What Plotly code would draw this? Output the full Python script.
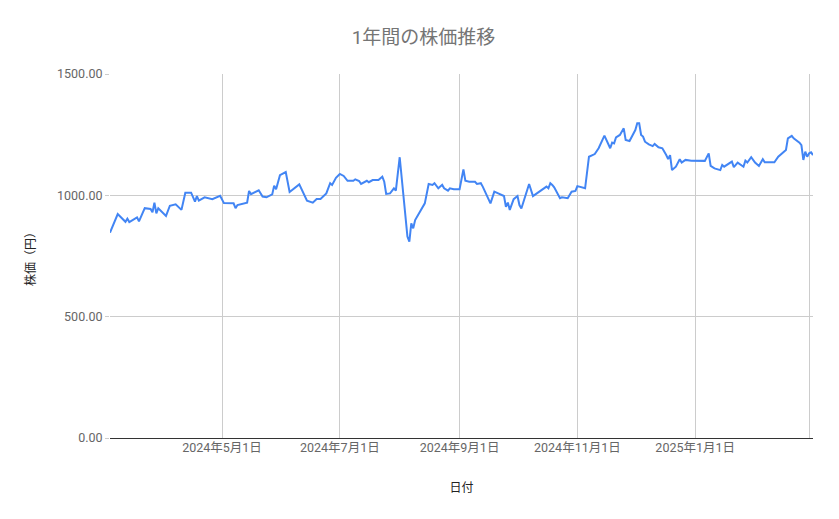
import plotly.graph_objects as go

# 株価データ
dates = [
    "2024-03-04", "2024-03-08", "2024-03-12", "2024-03-13", "2024-03-14", "2024-03-18",
    "2024-03-19", "2024-03-22", "2024-03-25", "2024-03-26", "2024-03-27", "2024-03-28",
    "2024-03-29", "2024-04-02", "2024-04-04", "2024-04-07", "2024-04-10", "2024-04-12",
    "2024-04-15", "2024-04-17", "2024-04-18", "2024-04-19", "2024-04-22", "2024-04-26",
    "2024-04-30", "2024-05-02", "2024-05-07", "2024-05-08", "2024-05-09", "2024-05-13",
    "2024-05-14", "2024-05-15", "2024-05-16", "2024-05-20", "2024-05-22", "2024-05-24",
    "2024-05-27", "2024-05-28", "2024-05-29", "2024-05-31", "2024-06-03", "2024-06-05",
    "2024-06-10", "2024-06-14", "2024-06-17", "2024-06-19", "2024-06-21", "2024-06-24",
    "2024-06-26", "2024-06-27", "2024-06-29", "2024-07-01", "2024-07-03", "2024-07-05",
    "2024-07-08", "2024-07-09", "2024-07-11", "2024-07-12", "2024-07-15", "2024-07-16",
    "2024-07-18", "2024-07-21", "2024-07-23", "2024-07-24", "2024-07-25", "2024-07-27",
    "2024-07-29", "2024-07-30", "2024-08-01", "2024-08-05", "2024-08-06", "2024-08-07",
    "2024-08-08", "2024-08-09", "2024-08-11", "2024-08-13", "2024-08-14", "2024-08-16",
    "2024-08-18", "2024-08-19", "2024-08-21", "2024-08-22", "2024-08-23", "2024-08-24",
    "2024-08-26", "2024-08-27", "2024-08-29", "2024-09-01", "2024-09-03", "2024-09-04",
    "2024-09-06", "2024-09-09", "2024-09-10", "2024-09-12", "2024-09-13", "2024-09-17",
    "2024-09-19", "2024-09-21", "2024-09-24", "2024-09-25", "2024-09-26", "2024-09-27",
    "2024-09-29", "2024-10-01", "2024-10-02", "2024-10-03", "2024-10-07", "2024-10-09",
    "2024-10-12", "2024-10-16", "2024-10-17", "2024-10-18", "2024-10-19", "2024-10-20",
    "2024-10-23", "2024-10-24", "2024-10-27", "2024-10-29", "2024-10-31", "2024-11-01",
    "2024-11-05", "2024-11-07", "2024-11-10", "2024-11-11", "2024-11-12", "2024-11-15",
    "2024-11-17", "2024-11-18", "2024-11-19", "2024-11-20", "2024-11-21", "2024-11-23",
    "2024-11-25", "2024-11-26", "2024-11-28", "2024-12-01", "2024-12-02", "2024-12-03",
    "2024-12-04", "2024-12-05", "2024-12-06", "2024-12-08", "2024-12-10", "2024-12-11",
    "2024-12-13", "2024-12-15", "2024-12-17", "2024-12-18", "2024-12-19", "2024-12-20",
    "2024-12-22", "2024-12-24", "2024-12-25", "2024-12-27", "2024-12-30", "2025-01-03",
    "2025-01-06", "2025-01-08", "2025-01-09", "2025-01-11", "2025-01-14", "2025-01-15",
    "2025-01-16", "2025-01-20", "2025-01-21", "2025-01-23", "2025-01-26", "2025-01-27",
    "2025-01-28", "2025-01-30", "2025-02-01", "2025-02-03", "2025-02-05", "2025-02-06",
    "2025-02-11", "2025-02-13", "2025-02-16", "2025-02-17", "2025-02-18", "2025-02-20",
    "2025-02-21", "2025-02-24", "2025-02-25", "2025-02-26", "2025-02-27", "2025-02-28",
    "2025-03-01", "2025-03-02", "2025-03-03",
]
prices = [
    846, 923, 891, 904, 890, 909,
    893, 947, 944, 930, 970, 926,
    947, 915, 957, 963, 940, 1011,
    1011, 974, 997, 978, 992, 984,
    998, 968, 967, 947, 960, 970,
    970, 1018, 1005, 1021, 995, 992,
    1004, 1040, 1025, 1083, 1096, 1014,
    1045, 978, 970, 985, 985, 1008,
    1050, 1043, 1072, 1088, 1080, 1060,
    1060, 1066, 1059, 1047, 1060, 1054,
    1063, 1063, 1077, 1056, 1006, 1008,
    1029, 1019, 1157, 830, 809, 885,
    864, 898, 926, 953, 967, 1047,
    1043, 1050, 1029, 1036, 1043, 1029,
    1019, 1029, 1025, 1025, 1107, 1060,
    1056, 1056, 1047, 1050, 1036, 967,
    1015, 1008, 997, 953, 970, 940,
    984, 997, 960, 946, 1047, 997,
    1015, 1036, 1029, 1050, 1043, 1033,
    988, 992, 988, 1015, 1018, 1038,
    1029, 1159, 1170, 1180, 1194, 1246,
    1207, 1194, 1217, 1214, 1239, 1249,
    1276, 1228, 1224, 1269, 1297, 1297,
    1249, 1242, 1221, 1210, 1203, 1212,
    1198, 1194, 1166, 1149, 1166, 1104,
    1118, 1149, 1135, 1146, 1143, 1143,
    1142, 1173, 1121, 1111, 1104, 1125,
    1118, 1139, 1116, 1135, 1118, 1143,
    1135, 1157, 1135, 1121, 1149, 1136,
    1136, 1159, 1180, 1187, 1235, 1245,
    1235, 1217, 1207, 1146, 1180, 1159,
    1173, 1177, 1166,
]

tick_dates = ["2024-05-01", "2024-07-01", "2024-09-01", "2024-11-01", "2025-01-01", "2025-03-01"]
tick_labels = ["2024年5月1日", "2024年7月1日", "2024年9月1日", "2024年11月1日", "2025年1月1日", ""]
y_ticks = [0, 500, 1000, 1500]

fig = go.Figure(go.Scatter(
    x=dates, y=prices,
    mode="lines",
    line=dict(color="#4285F4", width=2),
    showlegend=False,
))

# ページの余白 (8px) を考慮してサイズを調整
fig.update_layout(
    width=831, height=511,
    margin=dict(l=102, r=26, t=66, b=81),
    paper_bgcolor="white", plot_bgcolor="white",
    font=dict(family="Roboto, Noto Sans CJK JP", color="#666666", size=12),
    title=dict(text="1年間の株価推移", x=0.5, xanchor="center", y=0.943, yanchor="middle",
               font=dict(size=19, color="#757575")),
)

fig.update_xaxes(
    range=["2024-03-04", "2025-03-03"],
    tickvals=tick_dates, ticktext=tick_labels,
    showgrid=True, gridcolor="#cccccc", gridwidth=1,
    showline=False, zeroline=False, ticks="",
    tickfont=dict(size=12.5, color="#666666"),
    title=dict(text="日付", font=dict(size=12, color="#222222"), standoff=30),
)

fig.update_yaxes(
    range=[0, 1500],
    tickvals=y_ticks,
    tickformat=".2f",
    showgrid=True, gridcolor="#cccccc", gridwidth=1,
    zeroline=True, zerolinecolor="#333333", zerolinewidth=1,
    showline=False, ticks="outside", ticklen=4, tickcolor="#cccccc",
    tickfont=dict(size=12.5, color="#666666"),
    title=dict(text="株価（円）", font=dict(size=12, color="#222222"), standoff=18),
)

fig.write_html("out.html")
